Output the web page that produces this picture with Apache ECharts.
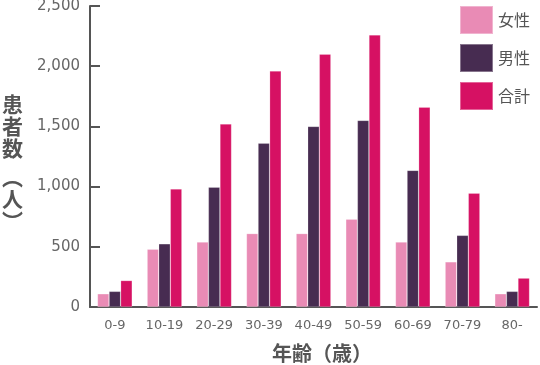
<!DOCTYPE html>
<html><head><meta charset="utf-8">
<script src="https://cdn.jsdelivr.net/npm/echarts@6/dist/echarts.min.js"></script>
<style>html,body{margin:0;padding:0;background:#fff}#c{width:540px;height:365px}</style>
</head><body><div id="c"></div>
<script>
const categories = ['0-9','10-19','20-29','30-39','40-49','50-59','60-69','70-79','80-'];
const female = [110, 480, 540, 610, 610, 730, 540, 375, 110];
const male = [130, 525, 995, 1360, 1500, 1550, 1135, 595, 130];
const total = [220, 980, 1520, 1960, 2100, 2260, 1660, 945, 240];
const seriesNames = ['女性','男性','合計'];
const colors = ['#e98bb5','#472c51','#d61163'];
const CJK = '"Noto Sans CJK JP","Noto Sans",sans-serif';
const NUM = '"DejaVu Sans",sans-serif';
const chart = echarts.init(document.getElementById('c'), null, {renderer:'canvas'});
const mk = (name, data, i) => ({
  name, type:'bar', data, barGap:'0%', barCategoryGap:'30%',
  itemStyle:{color:colors[i], borderColor:'rgba(255,255,255,0.35)', borderWidth:0.6},
  emphasis:{disabled:true}
});
chart.setOption({
  animation:false,
  textStyle:{fontFamily:CJK},
  grid:{left:90, right:3, top:6, bottom:58, outerBoundsMode:'none', containLabel:false},
  legend:{orient:'vertical', right:5, top:0, itemWidth:33, itemHeight:28, itemGap:8,
    icon:'rect', textStyle:{fontSize:16, color:'#555', fontFamily:CJK},
    data:seriesNames},
  xAxis:{type:'category', data:categories,
    axisLine:{lineStyle:{color:'#555', width:2}},
    axisTick:{show:false},
    axisLabel:{color:'#666', fontSize:13, margin:12, fontFamily:NUM},
    name:'年齢（歳）', nameLocation:'middle', nameGap:36,
    nameTextStyle:{fontSize:20, fontWeight:'bold', color:'#555', padding:[0,0,0,17], fontFamily:CJK}},
  yAxis:{type:'value', min:0, max:2500, interval:500,
    axisLine:{show:true, lineStyle:{color:'#555', width:2}},
    axisTick:{show:true, inside:true, length:10, lineStyle:{color:'#555', width:2}},
    splitLine:{show:false},
    axisLabel:{color:'#666', fontSize:15, margin:10, fontFamily:NUM,
      formatter:v=>v.toLocaleString('en-US')},
    name:'患\n者\n数\n{s| }\n︵\n人\n︶', nameLocation:'middle', nameGap:67, nameRotate:0,
    nameTextStyle:{fontSize:21, fontWeight:'bold', color:'#555', lineHeight:22,
      padding:[12,0,0,0], fontFamily:CJK,
      rich:{s:{fontSize:2, lineHeight:7}}}},
  series:[mk(seriesNames[0], female, 0), mk(seriesNames[1], male, 1), mk(seriesNames[2], total, 2)]
});
</script></body></html>
